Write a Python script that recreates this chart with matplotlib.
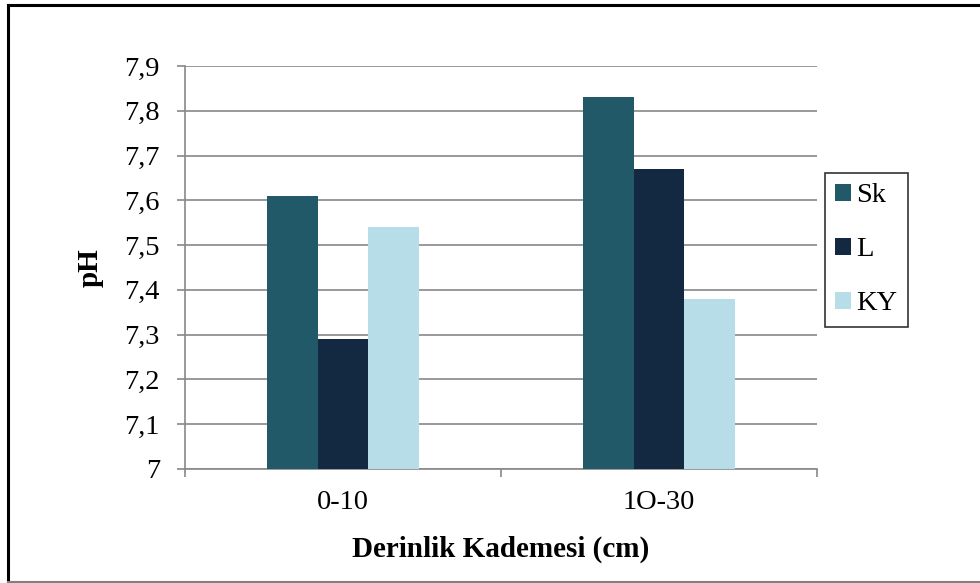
import matplotlib
matplotlib.use("Agg")
import matplotlib.pyplot as plt
from matplotlib.lines import Line2D
import numpy as np

plt.rcParams['font.family'] = ['Liberation Serif', 'DejaVu Serif']

categories = ["0-10", "1O-30"]
series_names = ["Sk", "L", "KY"]
values = {
    "Sk": [7.61, 7.83],
    "L": [7.29, 7.67],
    "KY": [7.54, 7.38],
}
colors = {"Sk": "#215968", "L": "#132841", "KY": "#B7DEE8"}
yticks = [7.0, 7.1, 7.2, 7.3, 7.4, 7.5, 7.6, 7.7, 7.8, 7.9]

W, H = 980, 583
fig = plt.figure(figsize=(W / 100, H / 100), dpi=100)
ax = fig.add_axes([185 / W, 1 - 469 / H, (817 - 185) / W, (469 - 66) / H])

x = np.arange(len(categories))
bw = 0.16
for i, name in enumerate(series_names):
    ax.bar(x + (i - 1) * bw, values[name], width=bw, color=colors[name],
           label=name, zorder=3)

grid_c = "#888888"
fs = 20.5
ax.set_xlim(-0.5, len(categories) - 0.5)
ax.set_ylim(7.0, 7.9)
ax.set_yticks(yticks)
ax.set_yticklabels([("%g" % v).replace(".", ",") for v in yticks], fontsize=fs)
ax.yaxis.grid(True, color=grid_c, linewidth=1.2, zorder=0)
ax.set_xticks(x)
ax.set_xticklabels(categories, fontsize=fs)
ax.set_xticks([-0.5, 0.5, 1.5], minor=True)
ax.tick_params(axis='x', which='major', length=0, pad=15)
ax.tick_params(axis='x', which='minor', length=6, color=grid_c, width=1.2)
ax.tick_params(axis='y', length=6, color=grid_c, width=1.2, pad=12)

for s in ["top", "right"]:
    ax.spines[s].set_visible(False)
for s in ["left", "bottom"]:
    ax.spines[s].set_color(grid_c)
    ax.spines[s].set_linewidth(1.2)

ax.set_ylabel("pH", fontsize=21, fontweight="bold", labelpad=15)
ax.set_xlabel("Derinlik Kademesi (cm)", fontsize=21, fontweight="bold", labelpad=15)

leg = ax.legend(loc="upper left", bbox_to_anchor=((825 - 185) / (817 - 185), (469 - 173) / (469 - 66)),
                fontsize=fs, frameon=True, fancybox=False, handlelength=0.55,
                handleheight=0.55, handletextpad=0.2, labelspacing=1.02,
                borderpad=0.36, borderaxespad=0)
leg.get_frame().set_edgecolor("black")
leg.get_frame().set_linewidth(1.2)

# outer frame
fig.add_artist(Line2D([8 / W, 8 / W], [1 - 4.5 / H, 1 - 582 / H], color="black", linewidth=2.2,
                      transform=fig.transFigure))
fig.add_artist(Line2D([8 / W, 1], [1 - 4.5 / H, 1 - 4.5 / H], color="black", linewidth=2.2,
                      transform=fig.transFigure))
fig.add_artist(Line2D([8 / W, 1], [1 - 582 / H, 1 - 582 / H], color="#808080", linewidth=1.5,
                      transform=fig.transFigure))

fig.savefig("out.png", dpi=100)
